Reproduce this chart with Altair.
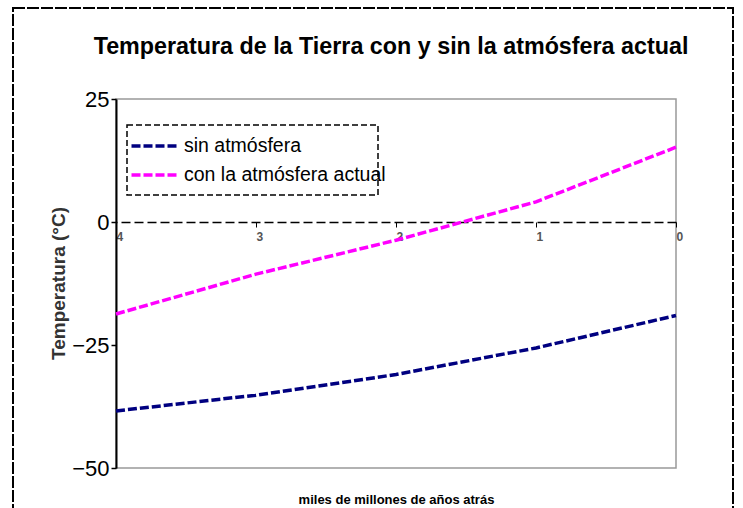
import altair as alt
import pandas as pd

years = [4, 3, 2, 1, 0]
sin_atm = [-38.4, -35.2, -31.0, -25.6, -19.0]
con_atm = [-18.7, -10.6, -3.7, 4.1, 15.2]
series_names = ["sin atmósfera", "con la atmósfera actual"]
series_colors = ["#000080", "#FF00FF"]
y_ticks = [25, 0, -25, -50]
x_ticks = [4, 3, 2, 1, 0]

rows = []
for name, vals in zip(series_names, [sin_atm, con_atm]):
    for yr, v in zip(years, vals):
        rows.append({"year": yr, "temp": v, "serie": name})
df = pd.DataFrame(rows)

W, H = 560, 369
FONT = "Liberation Sans, Arial"

lines = alt.Chart(df).mark_line(strokeWidth=3.5, strokeDash=[9, 3]).encode(
    x=alt.X("year:Q",
            scale=alt.Scale(domain=[0, 4], reverse=True, nice=False, zero=False),
            axis=alt.Axis(values=x_ticks, format="d", offset=-246,
                          domainColor="black", domainWidth=1.5, domainDash=[9, 4],
                          tickColor="black", tickSize=5, tickWidth=1,
                          labelFont=FONT, labelFontWeight="bold",
                          labelFontSize=12, labelColor="#555555",
                          labelAlign="left", labelPadding=4,
                          grid=False,
                          title="miles de millones de años atrás",
                          titleFont=FONT, titleFontSize=13,
                          titleFontWeight="bold", titleColor="black",
                          titleX=280, titleY=277, titleBaseline="middle")),
    y=alt.Y("temp:Q",
            scale=alt.Scale(domain=[-50, 25], nice=False, zero=False),
            axis=alt.Axis(values=y_ticks, grid=False,
                          domainColor="black", domainWidth=2,
                          tickColor="black", tickSize=5, tickWidth=1.5,
                          labelFont=FONT, labelFontSize=22,
                          labelColor="black", labelPadding=2,
                          title="Temperatura (°C)",
                          titleFont=FONT, titleFontSize=19,
                          titleFontWeight="bold", titleColor="#333333",
                          titleAngle=-90, titleX=-58, titleY=184,
                          titleAlign="center", titleBaseline="middle")),
    color=alt.Color("serie:N",
                    scale=alt.Scale(domain=series_names, range=series_colors),
                    sort=series_names,
                    legend=alt.Legend(title=None, orient="none",
                                      legendX=21, legendY=30,
                                      symbolType="M-1.5,0H1.5", symbolSize=900,
                                      symbolStrokeWidth=3.5, symbolDash=[9, 3],
                                      symbolFillColor="transparent",
                                      labelFont=FONT, labelFontSize=19.5,
                                      labelColor="black", labelOffset=13,
                                      labelLimit=0,
                                      rowPadding=2, padding=0)),
)

frame_df = pd.DataFrame({"k": [0]})
legend_box = alt.Chart(frame_df).mark_rect(
    fill=None, stroke="black", strokeWidth=1.5, strokeDash=[6, 3]
).encode(x=alt.value(11), x2=alt.value(262), y=alt.value(26), y2=alt.value(96))

outer_box = alt.Chart(frame_df).mark_rect(
    fill=None, stroke="black", strokeWidth=2, strokeDash=[12, 2]
).encode(x=alt.value(-103), x2=alt.value(617), y=alt.value(-91), y2=alt.value(430))

chart = alt.layer(outer_box, lines, legend_box).properties(
    width=W, height=H,
    title=alt.TitleParams("Temperatura de la Tierra con y sin la atmósfera actual",
                          font=FONT, fontSize=23.3, fontWeight="bold",
                          color="black", anchor="middle", offset=0, dy=70, dx=-5,
                          baseline="alphabetic", frame="group"),
    autosize=alt.AutoSizeParams(type="none"),
    padding={"left": 116, "top": 99, "right": 67, "bottom": 40},
    background="white",
).configure_view(stroke="#999999", strokeWidth=1.5)

chart.save("out.html", embed_options={"renderer": "svg", "actions": False})
